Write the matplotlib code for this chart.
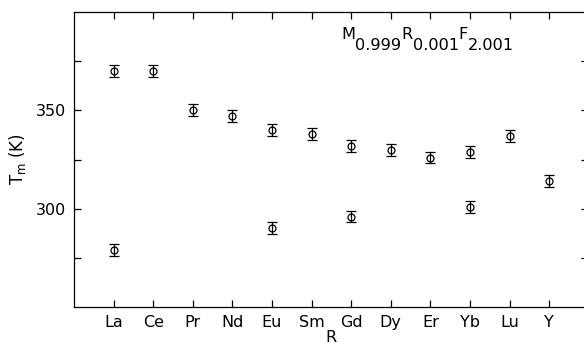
import numpy as np
import matplotlib
matplotlib.use('Agg')
import matplotlib.pyplot as plt
from matplotlib.transforms import offset_copy

plt.rcParams['font.family'] = ['DejaVu Sans']

# Data
elements = ['La', 'Ce', 'Pr', 'Nd', 'Eu', 'Sm', 'Gd', 'Dy', 'Er', 'Yb', 'Lu', 'Y']
tm_upper = [370, 370, 350, 347, 340, 338, 332, 330, 326, 329, 337, 314]
upper_err = [3.0] * 12

# second (lower) transition, only for some elements
lower_elements = ['La', 'Eu', 'Gd', 'Yb']
tm_lower = [279, 290, 296, 301]
lower_err = [3.0] * 4

# formula pieces: (text, subscript?)
formula = [('M', False), ('0.999', True), ('R', False), ('0.001', True),
           ('F', False), ('2.001', True)]

x = np.arange(1, len(elements) + 1)
x_low = [elements.index(e) + 1 for e in lower_elements]

fig = plt.figure(figsize=(5.84, 3.45), dpi=100)
ax = fig.add_axes([74 / 584, 1 - 307 / 345, 514 / 584, 295 / 345])

style = dict(fmt='o', color='black', mfc='none', mec='black', ms=5, mew=0.9,
             elinewidth=0.9, capsize=3.5, capthick=0.9)
ax.errorbar(x, tm_upper, yerr=upper_err, **style)
ax.errorbar(x_low, tm_lower, yerr=lower_err, **style)

ax.set_xlim(0, 12.98)
ax.set_ylim(250, 400)
ax.set_xticks(x)
ax.set_xticklabels(elements, fontsize=11.5)
ax.set_yticks([275, 300, 325, 350, 375])
ax.set_yticklabels(['', '300', '', '350', ''], fontsize=11.5)
ax.tick_params(direction='in', length=5, width=0.9, top=True, right=True, pad=6)

for sp in ax.spines.values():
    sp.set_linewidth(0.9)
# right edge of the frame is cut off in the original scan
ax.spines['right'].set_visible(False)

ax.set_xlabel('R', fontsize=11.5, labelpad=0)
ax.set_ylabel(r'T$_\mathregular{m}$ (K)', fontsize=12, labelpad=5)

# formula label, subscripts at full size and dropped below baseline
renderer = fig.canvas.get_renderer()
trans = ax.transAxes
x0, y0 = 0.52, 0.91
dx = 0
for txt, sub in formula:
    t = ax.text(x0, y0, txt, fontsize=11.6,
                transform=offset_copy(trans, fig=fig, x=dx, y=-11 if sub else 0, units='dots'))
    dx += t.get_window_extent(renderer).width

fig.savefig('out.png', dpi=100)
